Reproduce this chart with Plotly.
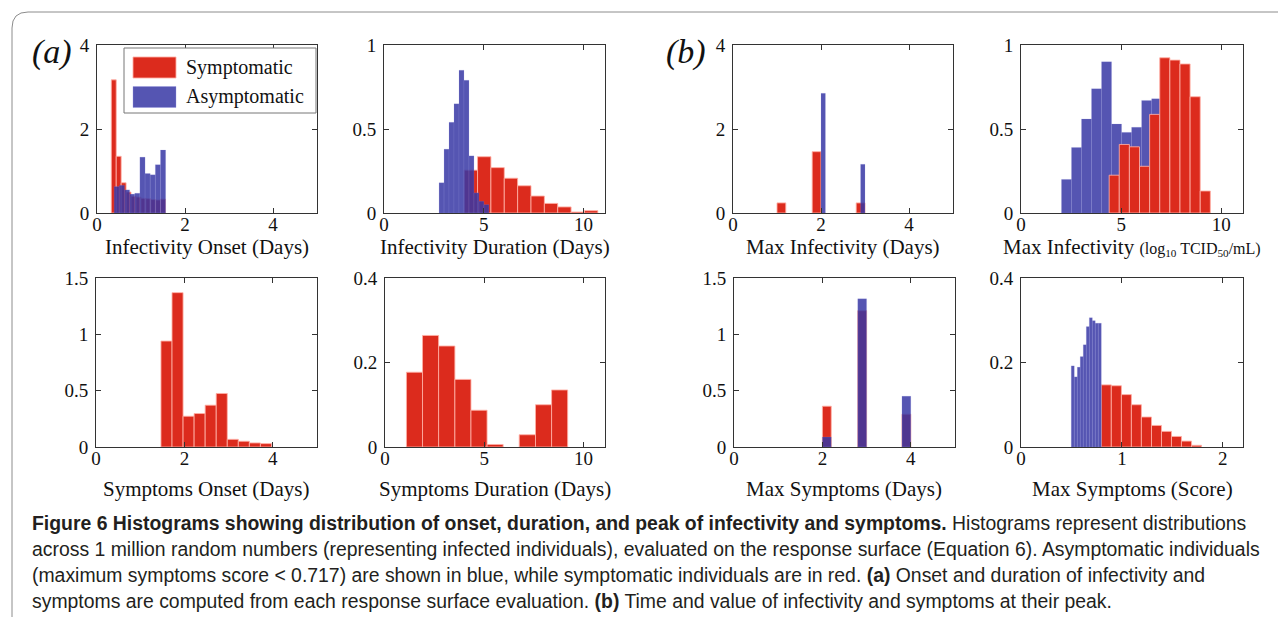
import plotly.graph_objects as go

# page body keeps an 8px margin; the figure is sized to fill the rest of the 1286x625 window
PAGE_OFF = 8
W, H = 1286 - PAGE_OFF, 625 - 2 * PAGE_OFF

# ---------------- data ----------------
# (a) Infectivity onset (days)
inf_onset_sym_edges = [0.325, 0.437, 0.549, 0.661, 0.773, 0.885, 0.997, 1.109, 1.221, 1.333, 1.445, 1.557]
inf_onset_sym = [3.17, 1.35, 0.72, 0.50, 0.40, 0.38, 0.35, 0.34, 0.32, 0.31, 0.33]
inf_onset_asym_edges = [0.39, 0.507, 0.624, 0.741, 0.858, 0.975, 1.092, 1.209, 1.326, 1.443, 1.56]
inf_onset_asym = [0.63, 0.66, 0.55, 0.45, 0.47, 1.33, 0.94, 0.91, 1.15, 1.50]

# (a) Infectivity duration (days)
inf_dur_sym_edges = [4.02, 4.69, 5.36, 6.03, 6.70, 7.37, 8.04, 8.71, 9.38, 10.05, 10.72]
inf_dur_sym = [0.255, 0.335, 0.27, 0.207, 0.162, 0.101, 0.057, 0.036, 0.006, 0.014]
inf_dur_asym_edges = [2.76, 3.01, 3.26, 3.51, 3.76, 4.01, 4.26, 4.51, 4.76, 5.01, 5.26]
inf_dur_asym = [0.18, 0.38, 0.54, 0.65, 0.85, 0.79, 0.34, 0.12, 0.07, 0.05]

# (a) Symptoms onset (days)
sym_onset_edges = [1.47, 1.72, 1.97, 2.22, 2.47, 2.72, 2.97, 3.22, 3.47, 3.72, 3.97]
sym_onset = [0.94, 1.37, 0.273, 0.297, 0.371, 0.475, 0.068, 0.051, 0.036, 0.030]

# (a) Symptoms duration (days)
sym_dur_edges = [1.08, 1.89, 2.70, 3.52, 4.33, 5.14, 5.95, 6.76, 7.58, 8.39, 9.20]
sym_dur = [0.177, 0.264, 0.239, 0.160, 0.087, 0.006, 0.0, 0.029, 0.100, 0.135]

# (b) Max infectivity time (days)
max_inf_day_sym_edges = [1.0, 1.2, 1.4, 1.6, 1.8, 2.0, 2.2, 2.4, 2.6, 2.8, 3.0]
max_inf_day_sym = [0.24, 0, 0, 0, 1.46, 0, 0, 0, 0, 0.24]
max_inf_day_asym_edges = [2.0, 2.1, 2.2, 2.3, 2.4, 2.5, 2.6, 2.7, 2.8, 2.9, 3.0]
max_inf_day_asym = [2.85, 0, 0, 0, 0, 0, 0, 0, 0, 1.16]

# (b) Max infectivity value (log10 TCID50/mL)
max_inf_val_sym_edges = [4.40, 4.905, 5.41, 5.915, 6.42, 6.925, 7.43, 7.935, 8.44, 8.945, 9.45]
max_inf_val_sym = [0.225, 0.408, 0.394, 0.278, 0.587, 0.924, 0.910, 0.887, 0.692, 0.131]
max_inf_val_asym_edges = [2.02, 2.52, 3.02, 3.52, 4.02, 4.52, 5.02, 5.52, 6.02, 6.52, 7.02]
max_inf_val_asym = [0.20, 0.39, 0.56, 0.74, 0.90, 0.53, 0.48, 0.51, 0.67, 0.68]

# (b) Max symptoms time (days)
max_sym_day_sym_edges = [2.0, 2.2, 2.4, 2.6, 2.8, 3.0, 3.2, 3.4, 3.6, 3.8, 4.0]
max_sym_day_sym = [0.362, 0, 0, 0, 1.21, 0, 0, 0, 0, 0.291]
max_sym_day_asym_edges = [2.0, 2.2, 2.4, 2.6, 2.8, 3.0, 3.2, 3.4, 3.6, 3.8, 4.0]
max_sym_day_asym = [0.089, 0, 0, 0, 1.315, 0, 0, 0, 0, 0.451]

# (b) Max symptoms score
max_sym_score_sym_edges = [0.796, 0.895, 0.995, 1.094, 1.193, 1.293, 1.392, 1.491, 1.590, 1.690, 1.789]
max_sym_score_sym = [0.147, 0.145, 0.124, 0.100, 0.071, 0.051, 0.037, 0.025, 0.014, 0.004]
max_sym_score_asym_edges = [0.498, 0.528, 0.558, 0.587, 0.617, 0.647, 0.677, 0.707, 0.736, 0.766, 0.796]
max_sym_score_asym = [0.192, 0.166, 0.189, 0.214, 0.242, 0.285, 0.306, 0.299, 0.293, 0.293]

legend_labels = ["Symptomatic", "Asymptomatic"]

caption_lines = [
    "<b>Figure 6 Histograms showing distribution of onset, duration, and peak of infectivity and symptoms.</b> Histograms represent distributions",
    "across 1 million random numbers (representing infected individuals), evaluated on the response surface (Equation 6). Asymptomatic individuals",
    "(maximum symptoms score &lt; 0.717) are shown in blue, while symptomatic individuals are in red. <b>(a)</b> Onset and duration of infectivity and",
    "symptoms are computed from each response surface evaluation. <b>(b)</b> Time and value of infectivity and symptoms at their peak.",
]

# ---------------- styling ----------------
RED = "#DC2B1D"
BLUE = "rgba(55,55,165,0.85)"
EDGES = {RED: ("rgba(255,175,165,0.85)", 1), BLUE: ("rgba(150,150,225,0.35)", 0.5)}
AXC = "#333333"
SERIF = "Liberation Serif, Times New Roman, serif"


def px(x):
    return (x - PAGE_OFF) / W


def py(y):
    return 1 - (y - PAGE_OFF) / H


panels = [
    dict(dom=(97, 317, 45, 213), xr=[0, 5], xt=[0, 2, 4], yr=[0, 4], yt=[0, 2, 4], yl=["0", "2", "4"],
         title="Infectivity Onset (Days)",
         series=[(inf_onset_sym_edges, inf_onset_sym, RED), (inf_onset_asym_edges, inf_onset_asym, BLUE)]),
    dict(dom=(384, 605, 45, 213), xr=[0, 11.08], xt=[0, 5, 10], yr=[0, 1], yt=[0, 0.5, 1], yl=["0", "0.5", "1"],
         title="Infectivity Duration (Days)",
         series=[(inf_dur_sym_edges, inf_dur_sym, RED), (inf_dur_asym_edges, inf_dur_asym, BLUE)]),
    dict(dom=(733, 953, 45, 213), xr=[0, 5], xt=[0, 2, 4], yr=[0, 4], yt=[0, 2, 4], yl=["0", "2", "4"],
         title="Max Infectivity (Days)",
         series=[(max_inf_day_sym_edges, max_inf_day_sym, RED), (max_inf_day_asym_edges, max_inf_day_asym, BLUE)]),
    dict(dom=(1021, 1243, 45, 213), xr=[0, 11.08], xt=[0, 5, 10], yr=[0, 1], yt=[0, 0.5, 1], yl=["0", "0.5", "1"],
         title='Max Infectivity <span style="font-size:16px">(log<sub>10</sub> TCID<sub>50</sub>/mL)</span>',
         series=[(max_inf_val_asym_edges, max_inf_val_asym, BLUE), (max_inf_val_sym_edges, max_inf_val_sym, RED)]),
    dict(dom=(96, 317, 278, 447), xr=[0, 5], xt=[0, 2, 4], yr=[0, 1.5], yt=[0, 0.5, 1, 1.5], yl=["0", "0.5", "1", "1.5"],
         title="Symptoms Onset (Days)",
         series=[(sym_onset_edges, sym_onset, RED)]),
    dict(dom=(385, 605, 278, 447), xr=[0, 11.08], xt=[0, 5, 10], yr=[0, 0.4], yt=[0, 0.2, 0.4], yl=["0", "0.2", "0.4"],
         title="Symptoms Duration (Days)",
         series=[(sym_dur_edges, sym_dur, RED)]),
    dict(dom=(734, 955, 278, 447), xr=[0, 5], xt=[0, 2, 4], yr=[0, 1.5], yt=[0, 0.5, 1, 1.5], yl=["0", "0.5", "1", "1.5"],
         title="Max Symptoms (Days)",
         series=[(max_sym_day_sym_edges, max_sym_day_sym, RED), (max_sym_day_asym_edges, max_sym_day_asym, BLUE)]),
    dict(dom=(1021, 1243, 278, 447), xr=[0, 2.2], xt=[0, 1, 2], yr=[0, 0.4], yt=[0, 0.2, 0.4], yl=["0", "0.2", "0.4"],
         title="Max Symptoms (Score)",
         series=[(max_sym_score_sym_edges, max_sym_score_sym, RED), (max_sym_score_asym_edges, max_sym_score_asym, BLUE)]),
]

fig = go.Figure()
layout = dict(
    template="none",
    width=W, height=H, margin=dict(l=0, r=0, t=0, b=0, pad=0),
    paper_bgcolor="white", plot_bgcolor="white",
    barmode="overlay", showlegend=False,
    annotations=[], shapes=[],
)

for i, p in enumerate(panels, start=1):
    x0, x1, y0, y1 = p["dom"]
    xa = "x" if i == 1 else f"x{i}"
    ya = "y" if i == 1 else f"y{i}"
    for edges, vals, col in p["series"]:
        keep = [k for k in range(len(vals)) if vals[k] > 0]  # empty bins draw nothing
        centers = [(edges[k] + edges[k + 1]) / 2 for k in keep]
        widths = [edges[k + 1] - edges[k] for k in keep]
        heights = [vals[k] for k in keep]
        ecol, ew = EDGES[col]
        fig.add_trace(go.Bar(
            x=centers, y=heights, width=widths, xaxis=xa, yaxis=ya,
            marker=dict(color=col, line=dict(color=ecol, width=ew)),
            showlegend=False, hoverinfo="x+y",
        ))
    common = dict(showline=True, linecolor=AXC, linewidth=1, mirror="ticks",
                  ticks="inside", ticklen=5, tickcolor=AXC, tickwidth=1,
                  showgrid=False, zeroline=False, automargin=False,
                  tickfont=dict(family=SERIF, size=19, color="#111111"))
    layout[f"xaxis{i}"] = dict(domain=[px(x0), px(x1)], range=p["xr"], tickvals=p["xt"],
                               ticktext=[str(v) for v in p["xt"]], anchor=ya,
                               ticklabelstandoff=-6, **common)
    layout[f"yaxis{i}"] = dict(domain=[py(y1), py(y0)], range=p["yr"], tickvals=p["yt"],
                               ticktext=p["yl"], anchor=xa, ticklabelstandoff=3, **common)
    ty = 247 if y0 < 100 else 489
    layout["annotations"].append(dict(
        text=p["title"], x=px((x0 + x1) / 2), y=py(ty), xref="paper", yref="paper",
        xanchor="center", yanchor="middle", showarrow=False,
        font=dict(family=SERIF, size=21, color="#111111")))

# panel labels
for lab, cx in (("(a)", 52), ("(b)", 686)):
    layout["annotations"].append(dict(
        text=f"<i>{lab}</i>", x=px(cx), y=py(52), xref="paper", yref="paper",
        xanchor="center", yanchor="middle", showarrow=False,
        font=dict(family=SERIF, size=34, color="#111111")))

# legend box inside first panel
layout["shapes"].append(dict(type="rect", xref="paper", yref="paper",
                             x0=px(124), x1=px(316), y0=py(48), y1=py(113),
                             line=dict(color="#777777", width=1), fillcolor="white", layer="above"))
for (lab, col, yc) in ((legend_labels[0], RED, 67.5), (legend_labels[1], BLUE, 97)):
    layout["shapes"].append(dict(type="rect", xref="paper", yref="paper",
                                 x0=px(133), x1=px(176), y0=py(yc + 10.5), y1=py(yc - 10.5),
                                 line=dict(color=EDGES[col][0], width=1), fillcolor=col, layer="above"))
    layout["annotations"].append(dict(
        text=lab, x=px(184), y=py(yc), xref="paper", yref="paper",
        xanchor="left", yanchor="middle", showarrow=False,
        font=dict(family=SERIF, size=20, color="#111111")))

# outer rounded frame
layout["shapes"].append(dict(
    type="path", xref="paper", yref="paper",
    path=f"M {px(12)},{py(640)} L {px(12)},{py(28)} Q {px(12)},{py(12)} {px(28)},{py(12)} L {px(1300)},{py(12)}",
    line=dict(color="#8c8c8c", width=1)))

# caption
for k, line in enumerate(caption_lines):
    layout["annotations"].append(dict(
        text=line, x=px(30), y=py(523 + 26 * k), xref="paper", yref="paper",
        xanchor="left", yanchor="middle", showarrow=False,
        font=dict(family="Liberation Sans, Arial, sans-serif", size=19.4, color="#231f20")))

fig.update_layout(**layout)
fig.write_html("out.html")
